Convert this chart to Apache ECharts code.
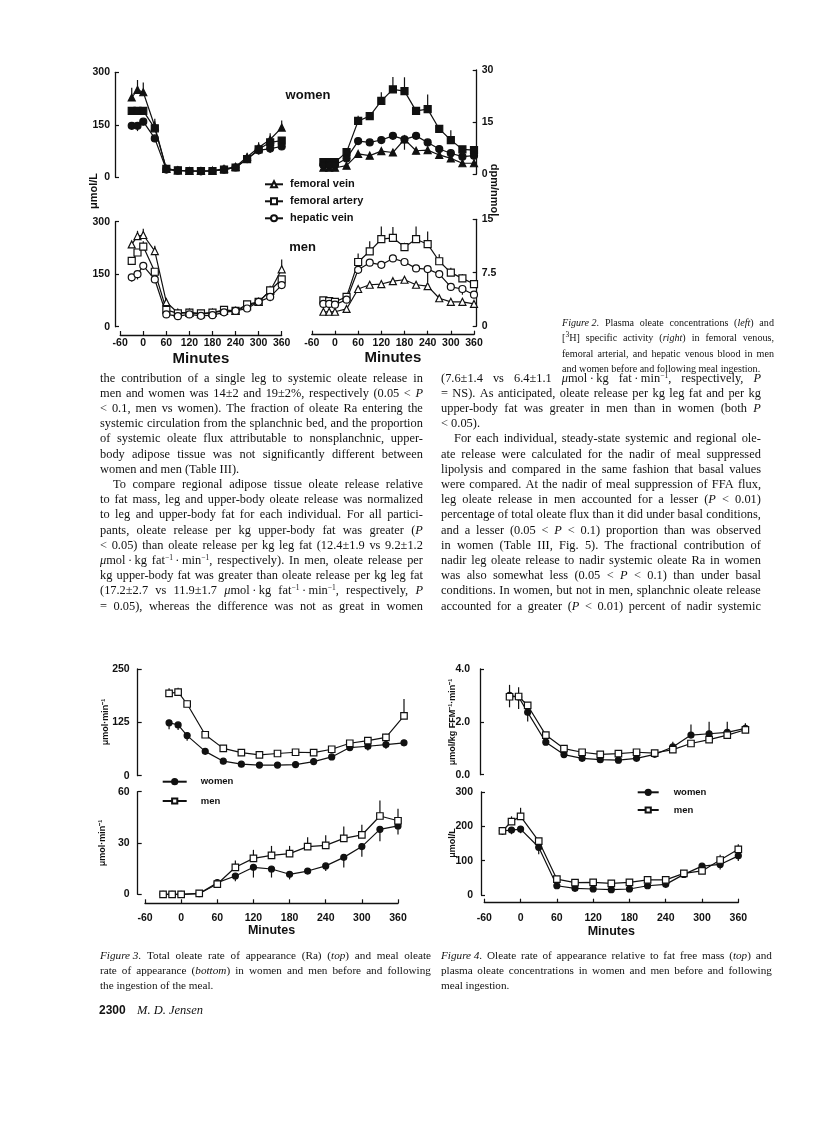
<!DOCTYPE html>
<html><head><meta charset="utf-8">
<script src="https://cdn.jsdelivr.net/npm/echarts@6.0.0/dist/echarts.min.js"></script>
<style>
html,body{margin:0;padding:0;background:#fff}
#page{position:relative;width:816px;height:1132px;overflow:hidden;background:#fff}
#chart{position:absolute;left:0;top:0;width:816px;height:1132px}
.ln{position:absolute;height:15px;line-height:15px;font-family:"Liberation Serif","Times New Roman",serif;font-size:12.4px;color:#111;white-space:nowrap}
.j{display:flex;justify-content:space-between}
.cap{font-size:11.2px}
.cap2{font-size:10.1px}
.ln sup{font-size:7.5px;line-height:0;vertical-align:4px}
.foot{position:absolute;top:1002px;font-size:12px;line-height:16px;color:#111}
</style></head>
<body><div id="page"><div id="chart"></div></div>
<script>
// ---------------- data ----------------
const minutes = [-30, -15, 0, 30, 60, 90, 120, 150, 180, 210, 240, 270, 300, 330, 360];
const minuteTicks = [-60, 0, 60, 120, 180, 240, 300, 360];

// Figure 2 - plasma oleate (umol/L), women
const fvWomenConc = [228, 250, 243, 145, 24, 20, 18, 18, 19, 24, 30, 58, 85, 108, 142];
const faWomenConc = [190, 190, 190, 140, 24, 20, 18, 18, 18, 22, 28, 52, 80, 100, 105];
const hvWomenConc = [147, 147, 159, 111, 22, 19, 18, 17, 18, 22, 28, 52, 77, 82, 88];
const fvWomenConcErr = [28, 28, 28, 22, 0, 0, 0, 0, 0, 0, 0, 10, 15, 18, 20];
const faWomenConcErr = [0, 0, 0, 20, 0, 0, 0, 0, 0, 0, 0, 0, 10, 12, 0];
const hvWomenConcErr = [-10, -15, -10, -10, 0, 0, 0, 0, 0, 0, 0, -10, -12, -12, -10];
// Figure 2 - plasma oleate (umol/L), men
const fvMenConc = [235, 259, 262, 216, 70, 40, 40, 36, 40, 45, 45, 59, 71, 102, 164];
const faMenConc = [188, 212, 229, 157, 48, 38, 40, 38, 40, 48, 45, 64, 71, 104, 135];
const hvMenConc = [141, 150, 174, 135, 35, 30, 35, 31, 33, 41, 45, 52, 71, 85, 119];
const fvMenConcErr = [0, 15, 18, 15, 10, 0, 0, 0, 0, 0, 0, 0, 0, 15, 28];
const faMenConcErr = [0, 10, 15, 0, 0, 0, 0, 0, 0, 0, 0, 0, 0, 0, 0];
const hvMenConcErr = [-12, -15, -10, 0, 0, 0, 0, 0, 0, 0, 0, 0, 0, -12, -10];
// Figure 2 - [3H] specific activity (dpm/nmol), women
const fvWomenSA = [1.8, 1.8, 1.8, 2.4, 5.8, 5.3, 6.6, 6.2, 10.0, 6.7, 6.9, 5.5, 4.5, 3.1, 3.1];
const faWomenSA = [3.4, 3.4, 3.4, 6.3, 15.3, 16.7, 21.1, 24.4, 23.9, 18.2, 18.7, 13.0, 9.8, 7.1, 6.9];
const hvWomenSA = [2.6, 2.6, 2.6, 4.5, 9.5, 9.1, 9.8, 11.0, 10.0, 11.0, 9.1, 7.2, 6.0, 5.0, 5.3];
const fvWomenSAErr = [0, 0, 0, 0, -0.8, -0.8, -0.5, -0.5, -3, -1, -1, -0.5, -0.5, -0.3, -0.3];
const faWomenSAErr = [0, 0, 0, 0, 1.5, 0.8, 2.5, 3.6, 4.0, 1.0, 4.2, 0.5, 2.8, 0.5, 1.0];
const hvWomenSAErr = [0, 0, 0, 0, -1, 0, -1, -1, -1, -1, -1, -0.5, -0.5, -0.5, -0.5];
// Figure 2 - [3H] specific activity (dpm/nmol), men
const fvMenSA = [2.0, 2.0, 2.0, 2.4, 5.2, 5.8, 5.9, 6.3, 6.5, 5.8, 5.6, 3.9, 3.4, 3.4, 3.1];
const faMenSA = [3.6, 3.5, 3.4, 4.1, 9.0, 10.5, 12.2, 12.4, 11.1, 12.2, 11.5, 9.1, 7.5, 6.7, 5.9];
const hvMenSA = [3.1, 3.1, 3.0, 3.7, 7.9, 8.9, 8.6, 9.5, 9.0, 8.1, 8.0, 7.3, 5.5, 5.2, 4.4];
const fvMenSAErr = [0, 0, 0, 0, -0.4, 0, 0, 0, 0, -0.5, -0.5, -0.3, -0.3, -0.3, -0.5];
const faMenSAErr = [0, 0, 0, 0, 1.2, 1.4, 1.8, 1.5, 0.6, 1.8, 1.8, 1.0, 0.7, 0.6, 0.4];
const hvMenSAErr = [0, 0, -0.5, 0, 0, 0, 0, 0, 0, 0, -1.8, -0.5, -0.5, -0.8, -0.3];

// Figure 3 - total oleate Ra (umol/min)
const totalRaWomen = [124, 119, 94, 57, 34, 27, 25, 25, 26, 33, 44, 66, 69, 73, 77];
const totalRaMen = [193, 196, 168, 96, 64, 54, 49, 52, 55, 54, 62, 76, 82, 90, 140];
const totalRaWomenErr = [-15, -12, -12, -5, 0, 0, 0, 0, 0, 0, 0, -8, -10, -10, 0];
const totalRaMenErr = [12, 10, 8, 0, 0, 0, 0, 0, 0, 0, 0, 0, 6, 8, 40];
// Figure 3 - meal oleate Ra (umol/min)
const mealRaWomen = [0, 0, 0, 0.4, 6.8, 10.7, 15.8, 14.8, 11.7, 13.6, 16.6, 21.6, 27.9, 38, 40];
const mealRaMen = [0, 0, 0, 0.5, 6, 15.8, 21, 22.8, 23.8, 27.9, 28.6, 32.7, 34.7, 45.8, 43];
const mealRaWomenErr = [0, 0, 0, 0, 0, -3, -6, -5, -3, 0, -3, -6, -6, -7, -5];
const mealRaMenErr = [0, 0, 0, 0, 0, 4, 5, 5.5, 4.5, 5.5, 6, 7, 6, 9, 7];

// Figure 4 - Ra per kg FFM (umol/kg FFM/min)
const ffmRaWomen = [3.0, 2.94, 2.36, 1.23, 0.76, 0.62, 0.57, 0.55, 0.62, 0.77, 1.05, 1.5, 1.55, 1.6, 1.75];
const ffmRaMen = [2.95, 2.96, 2.62, 1.5, 0.99, 0.85, 0.77, 0.8, 0.85, 0.82, 0.95, 1.18, 1.33, 1.5, 1.7];
const ffmRaWomenErr = [-0.45, -0.45, -0.35, 0, 0, 0, 0, 0, 0, 0, 0.2, 0.4, 0.45, 0.4, 0.2];
const ffmRaMenErr = [0.45, 0.35, 0, 0, 0, 0, 0, 0, 0, 0, 0, 0, 0, 0, 0.2];
// Figure 4 - plasma oleate (umol/L)
const plasmaWomen = [187, 189, 192, 139, 27, 19.5, 17.5, 15.5, 17.5, 27, 31, 60, 84, 89, 114];
const plasmaMen = [187, 214, 229, 157, 46, 36, 37, 34, 37, 44, 44, 63, 70, 102, 133];
const plasmaWomenErr = [-12, -12, -12, -20, 0, 0, 0, 0, 0, 0, 0, -8, 0, -15, -15];
const plasmaMenErr = [0, 15, 25, 0, 0, 0, 0, 0, 0, 0, 0, 0, 10, 15, 15];

// y-axis ticks
const concTicks = [0, 150, 300];
const saWomenTicks = [0, 15, 30];
const saMenTicks = [0, 7.5, 15];
const totalRaTicks = [0, 125, 250];
const mealRaTicks = [0, 30, 60];
const ffmTicks = [0, 2, 4];
const plasmaTicks = [0, 100, 200, 300];

// ---------------- chart ----------------
const SANS = '"Liberation Sans", Arial, Helvetica, sans-serif';
const INK = '#111';

const grids = [
  {left: 120.2, top: 72.3, width: 161.5, height: 105},
  {left: 120.2, top: 221.7, width: 161.5, height: 105},
  {left: 311.8, top: 70, width: 162.2, height: 104},
  {left: 311.8, top: 219.3, width: 162.2, height: 106.7},
  {left: 151, top: 669, width: 253, height: 106.7},
  {left: 145, top: 791.7, width: 253, height: 102.6},
  {left: 491.4, top: 669, width: 254, height: 105.7},
  {left: 484.3, top: 792, width: 254, height: 103}
].map(g => Object.assign({containLabel: false, outerBoundsMode: 'none'}, g));

function xAxis(gi, show, offset, labelMargin, nameGap, nameSize) {
  return {
    gridIndex: gi, type: 'value', show: show,
    min: minuteTicks[0], max: minuteTicks[minuteTicks.length - 1],
    interval: minuteTicks[1] - minuteTicks[0],
    offset: offset || 0,
    axisLine: {show: true, onZero: false, lineStyle: {color: INK, width: 1.3}},
    axisTick: {show: true, inside: true, length: 4, lineStyle: {color: INK, width: 1.2}},
    axisLabel: {show: true, color: INK, fontFamily: SANS, fontWeight: 'bold', fontSize: 10.5, margin: labelMargin || 4},
    splitLine: {show: false},
    name: show ? 'Minutes' : '', nameLocation: 'middle', nameGap: nameGap || 15,
    nameTextStyle: {color: INK, fontFamily: SANS, fontWeight: 'bold', fontSize: nameSize || 13}
  };
}
function yAxis(gi, ticks, pos, offset, margin, fmt) {
  const o = {
    gridIndex: gi, type: 'value', position: pos,
    min: ticks[0], max: ticks[ticks.length - 1], interval: ticks[1] - ticks[0],
    offset: offset,
    axisLine: {show: true, onZero: false, lineStyle: {color: INK, width: 1.3}},
    axisTick: {show: true, inside: true, length: 4, lineStyle: {color: INK, width: 1.2}},
    axisLabel: {show: true, color: INK, fontFamily: SANS, fontWeight: 'bold', fontSize: 10.5, margin: margin},
    splitLine: {show: false}
  };
  if (fmt) o.axisLabel.formatter = fmt;
  return o;
}

function line(name, gi, vals, symbol, filled, size) {
  return {
    type: 'line', name: name, xAxisIndex: gi, yAxisIndex: gi,
    data: minutes.map((t, i) => [t, vals[i]]),
    symbol: symbol, symbolSize: size || 7, showSymbol: true,
    lineStyle: {color: INK, width: 1.2},
    itemStyle: {color: filled ? INK : '#fff', borderColor: INK, borderWidth: 1.2},
    emphasis: {disabled: true}, z: 3, animation: false
  };
}
function errs(gi, vals, e) {
  return {
    type: 'custom', xAxisIndex: gi, yAxisIndex: gi, silent: true, z: 2,
    data: minutes.map((t, i) => [t, vals[i], e[i]]).filter(d => d[2] !== 0),
    encode: {x: 0, y: 1},
    renderItem: function (params, api) {
      const p = api.coord([api.value(0), api.value(1)]);
      const q = api.coord([api.value(0), api.value(1) + api.value(2)]);
      return {type: 'line', shape: {x1: p[0], y1: p[1], x2: q[0], y2: q[1]},
              style: {stroke: INK, lineWidth: 1.2}};
    },
    animation: false
  };
}

const series = [
  errs(0, fvWomenConc, fvWomenConcErr), errs(0, faWomenConc, faWomenConcErr), errs(0, hvWomenConc, hvWomenConcErr),
  line('femoral vein (women)', 0, fvWomenConc, 'triangle', true),
  line('femoral artery (women)', 0, faWomenConc, 'rect', true),
  line('hepatic vein (women)', 0, hvWomenConc, 'circle', true),
  errs(1, fvMenConc, fvMenConcErr), errs(1, faMenConc, faMenConcErr), errs(1, hvMenConc, hvMenConcErr),
  line('femoral vein', 1, fvMenConc, 'triangle', false),
  line('femoral artery', 1, faMenConc, 'rect', false),
  line('hepatic vein', 1, hvMenConc, 'circle', false),
  errs(2, fvWomenSA, fvWomenSAErr), errs(2, faWomenSA, faWomenSAErr), errs(2, hvWomenSA, hvWomenSAErr),
  line('femoral vein SA (women)', 2, fvWomenSA, 'triangle', true),
  line('femoral artery SA (women)', 2, faWomenSA, 'rect', true),
  line('hepatic vein SA (women)', 2, hvWomenSA, 'circle', true),
  errs(3, fvMenSA, fvMenSAErr), errs(3, faMenSA, faMenSAErr), errs(3, hvMenSA, hvMenSAErr),
  line('femoral vein SA (men)', 3, fvMenSA, 'triangle', false),
  line('femoral artery SA (men)', 3, faMenSA, 'rect', false),
  line('hepatic vein SA (men)', 3, hvMenSA, 'circle', false),
  errs(4, totalRaWomen, totalRaWomenErr), errs(4, totalRaMen, totalRaMenErr),
  line('women', 4, totalRaWomen, 'circle', true, 6),
  line('men', 4, totalRaMen, 'rect', false, 6.5),
  errs(5, mealRaWomen, mealRaWomenErr), errs(5, mealRaMen, mealRaMenErr),
  line('women', 5, mealRaWomen, 'circle', true, 6),
  line('men', 5, mealRaMen, 'rect', false, 6.5),
  errs(6, ffmRaWomen, ffmRaWomenErr), errs(6, ffmRaMen, ffmRaMenErr),
  line('women', 6, ffmRaWomen, 'circle', true, 6),
  line('men', 6, ffmRaMen, 'rect', false, 6.5),
  errs(7, plasmaWomen, plasmaWomenErr), errs(7, plasmaMen, plasmaMenErr),
  line('women', 7, plasmaWomen, 'circle', true, 6),
  line('men', 7, plasmaMen, 'rect', false, 6.5)
];

function legend(names, left, top, w, h, lh, gap, fs, textPad) {
  return {
    data: names, orient: 'vertical', left: left, top: top, padding: 0,
    itemWidth: w, itemHeight: h, itemGap: gap, selectedMode: false,
    textStyle: {color: INK, fontFamily: SANS, fontWeight: 'bold', fontSize: fs, lineHeight: lh, padding: [0, 0, 0, textPad]}
  };
}

function gText(text, x, y, size, rot, weight, family) {
  return {
    type: 'text', x: x, y: y, rotation: rot || 0, silent: true,
    style: {text: text, fill: INK, fontSize: size, fontWeight: weight || 'bold', fontFamily: family || SANS,
            align: 'center', verticalAlign: 'middle', textAlign: 'center', textVerticalAlign: 'middle'}
  };
}

const option = {
  animation: false,
  backgroundColor: 'transparent',
  grid: grids,
  xAxis: [
    xAxis(0, false), xAxis(1, true, 8.3, 3, 16, 15),
    xAxis(2, false), xAxis(3, true, 8.7, 3, 16, 15),
    xAxis(4, false), xAxis(5, true, 9, 9, 21, 12.5),
    xAxis(6, false), xAxis(7, true, 7.7, 10, 21, 12.5)
  ],
  yAxis: [
    yAxis(0, concTicks, 'left', 5.2, 5), yAxis(1, concTicks, 'left', 5.2, 5),
    yAxis(2, saWomenTicks, 'right', 2.7, 5), yAxis(3, saMenTicks, 'right', 2.7, 5),
    yAxis(4, totalRaTicks, 'left', 13.3, 8), yAxis(5, mealRaTicks, 'left', 7.3, 8),
    yAxis(6, ffmTicks, 'left', 11.4, 10, v => v.toFixed(1)), yAxis(7, plasmaTicks, 'left', 3.3, 8)
  ],
  legend: [
    legend(['femoral vein', 'femoral artery', 'hepatic vein'], 264, 178.3, 18, 7.5, 12, 5, 11, 2),
    legend(['women', 'men'], 161.7, 776.7, 24, 6.5, 10, 9.3, 9.5, 9),
    legend(['women', 'men'], 636.7, 787.3, 21, 6.5, 10, 7.7, 9.5, 10)
  ],
  graphic: [
    gText('women', 308, 95, 13),
    gText('men', 302.5, 247.7, 13),
    gText('\u03bcmol/L', 94, 191, 11, Math.PI / 2),
    gText('dpm/nmol', 494, 190, 11, -Math.PI / 2),
    gText('\u03bcmol\u00b7min\u207b\u00b9', 106, 722, 9, Math.PI / 2),
    gText('\u03bcmol\u00b7min\u207b\u00b9', 103, 843, 9, Math.PI / 2),
    gText('\u03bcmol/kg FFM\u207b\u00b9\u00b7min\u207b\u00b9', 453, 722, 9, Math.PI / 2),
    gText('\u03bcmol/L', 453, 843, 9, Math.PI / 2)
  ],
  series: series
};

const chart = echarts.init(document.getElementById('chart'), null, {renderer: 'canvas', width: 816, height: 1132});
chart.setOption(option);

// ---------------- page text ----------------
const page = document.getElementById('page');
function addLine(html, x, yc, w, mode, extraClass) {
  const d = document.createElement('div');
  const indent = mode.indexOf('i') >= 0 ? 13 : 0;
  d.className = 'ln' + (mode.indexOf('j') >= 0 ? ' j' : '') + (extraClass ? ' ' + extraClass : '');
  d.style.left = (x + indent) + 'px';
  d.style.top = (yc - 7.5) + 'px';
  d.style.width = (w - indent) + 'px';
  if (mode.indexOf('j') >= 0) {
    d.innerHTML = html.split(' ').map(s => '<span>' + s + '</span>').join('');
  } else {
    d.innerHTML = html;
  }
  page.appendChild(d);
}
const leftCol = [
  ['the contribution of a single leg to systemic oleate release in', 'j'],
  ['men and women was 14\u00b12 and 19\u00b12%, respectively (0.05 &lt; <i>P</i>', 'j'],
  ['&lt; 0.1, men vs women). The fraction of oleate Ra entering the', 'j'],
  ['systemic circulation from the splanchnic bed, and the proportion', 'j'],
  ['of systemic oleate flux attributable to nonsplanchnic, upper-', 'j'],
  ['body adipose tissue was not significantly different between', 'j'],
  ['women and men (Table III).', 'l'],
  ['To compare regional adipose tissue oleate release relative', 'ij'],
  ['to fat mass, leg and upper-body oleate release was normalized', 'j'],
  ['to leg and upper-body fat for each individual. For all partici-', 'j'],
  ['pants, oleate release per kg upper-body fat was greater (<i>P</i>', 'j'],
  ['&lt; 0.05) than oleate release per kg leg fat (12.4\u00b11.9 vs 9.2\u00b11.2', 'j'],
  ['<i>\u03bc</i>mol\u2009\u00b7\u2009kg fat<sup>\u22121</sup>\u2009\u00b7\u2009min<sup>\u22121</sup>, respectively). In men, oleate release per', 'j'],
  ['kg upper-body fat was greater than oleate release per kg leg fat', 'j'],
  ['(17.2\u00b12.7 vs 11.9\u00b11.7 <i>\u03bc</i>mol\u2009\u00b7\u2009kg fat<sup>\u22121</sup>\u2009\u00b7\u2009min<sup>\u22121</sup>, respectively, <i>P</i>', 'j'],
  ['= 0.05), whereas the difference was not as great in women', 'j']
];
const rightCol = [
  ['(7.6\u00b11.4 vs 6.4\u00b11.1 <i>\u03bc</i>mol\u2009\u00b7\u2009kg fat\u2009\u00b7\u2009min<sup>\u22121</sup>, respectively, <i>P</i>', 'j'],
  ['= NS). As anticipated, oleate release per kg leg fat and per kg', 'j'],
  ['upper-body fat was greater in men than in women (both <i>P</i>', 'j'],
  ['&lt; 0.05).', 'l'],
  ['For each individual, steady-state systemic and regional ole-', 'ij'],
  ['ate release were calculated for the nadir of meal suppressed', 'j'],
  ['lipolysis and compared in the same fashion that basal values', 'j'],
  ['were compared. At the nadir of meal suppression of FFA flux,', 'j'],
  ['leg oleate release in men accounted for a lesser (<i>P</i> &lt; 0.01)', 'j'],
  ['percentage of total oleate flux than it did under basal conditions,', 'j'],
  ['and a lesser (0.05 &lt; <i>P</i> &lt; 0.1) proportion than was observed', 'j'],
  ['in women (Table III, Fig. 5). The fractional contribution of', 'j'],
  ['nadir leg oleate release to nadir systemic oleate Ra in women', 'j'],
  ['was also somewhat less (0.05 &lt; <i>P</i> &lt; 0.1) than under basal', 'j'],
  ['conditions. In women, but not in men, splanchnic oleate release', 'j'],
  ['accounted for a greater (<i>P</i> &lt; 0.01) percent of nadir systemic', 'j']
];
leftCol.forEach((l, i) => addLine(l[0], 100, 378 + i * 15.2, 323, l[1]));
rightCol.forEach((l, i) => addLine(l[0], 441, 378 + i * 15.2, 320, l[1]));

const fig2Cap = [
  ['<i>Figure&nbsp;2.</i> Plasma oleate concentrations (<i>left</i>) and', 'j'],
  ['[<sup>3</sup>H] specific activity (<i>right</i>) in femoral venous,', 'j'],
  ['femoral arterial, and hepatic venous blood in men', 'j'],
  ['and women before and following meal ingestion.', 'l']
];
fig2Cap.forEach((l, i) => addLine(l[0], 562, 322 + i * 15.5, 212, l[1], 'cap2'));
const fig3Cap = [
  ['<i>Figure&nbsp;3.</i> Total oleate rate of appearance (Ra) (<i>top</i>) and meal oleate', 'j'],
  ['rate of appearance (<i>bottom</i>) in women and men before and following', 'j'],
  ['the ingestion of the meal.', 'l']
];
fig3Cap.forEach((l, i) => addLine(l[0], 100, 955 + i * 15, 331, l[1], 'cap'));
const fig4Cap = [
  ['<i>Figure&nbsp;4.</i> Oleate rate of appearance relative to fat free mass (<i>top</i>) and', 'j'],
  ['plasma oleate concentrations in women and men before and following', 'j'],
  ['meal ingestion.', 'l']
];
fig4Cap.forEach((l, i) => addLine(l[0], 441, 955 + i * 15, 331, l[1], 'cap'));

const f1 = document.createElement('div');
f1.className = 'foot';
f1.style.left = '99px';
f1.style.fontFamily = SANS;
f1.style.fontWeight = 'bold';
f1.textContent = '2300';
page.appendChild(f1);
const f2 = document.createElement('div');
f2.className = 'foot';
f2.style.left = '137px';
f2.style.fontFamily = '"Liberation Serif", serif';
f2.style.fontStyle = 'italic';
f2.style.fontSize = '12.5px';
f2.textContent = 'M. D. Jensen';
page.appendChild(f2);
</script></body></html>
